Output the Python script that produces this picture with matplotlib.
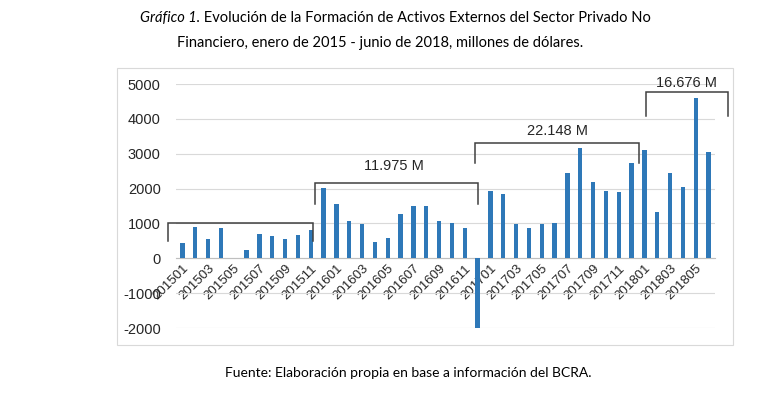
import matplotlib
matplotlib.use("Agg")
import matplotlib.pyplot as plt
from matplotlib.patches import Rectangle

plt.rcParams["axes.unicode_minus"] = False

# ---- data ----
periods = [f"{y}{m:02d}" for y in (2015, 2016, 2017, 2018) for m in range(1, 13)][:42]
values = [450, 900, 550, 870, 0, 240, 700, 650, 550, 680, 800, 2020,
          1570, 1060, 990, 475, 570, 1270, 1490, 1510, 1070, 1000, 865, -2000,
          1930, 1850, 990, 865, 990, 1020, 2450, 3160, 2200, 1930, 1910, 2720,
          3110, 1330, 2440, 2050, 4610, 3060]
bracket_labels = ["", "11.975 M", "22.148 M", "16.676 M"]
# bracket: (x_start, x_end, y_top, y_left_end, y_right_end)
brackets = [(-1.1, 10.15, 1000, 500, 500),
            (10.3, 23.0, 2150, 1550, 1570),
            (22.8, 35.6, 3320, 2740, 2720),
            (36.1, 42.5, 4760, 4070, 4070)]
label_pos = [None, (16.5, 2640), (29.2, 3640), (39.3, 5040)]

W, H, DPI = 768, 398, 100
fig = plt.figure(figsize=(W / DPI, H / DPI), dpi=DPI)
fig.patch.set_facecolor("white")

# chart border box
fig.add_artist(Rectangle((117 / W, 1 - 345 / H), (733 - 117) / W, (345 - 68) / H,
                         transform=fig.transFigure, fill=False,
                         edgecolor="#D9D9D9", linewidth=0.8))

ax = fig.add_axes([176 / W, 1 - 328 / H, (715 - 176) / W, (328 - 84) / H])
x = list(range(len(values)))
ax.bar(x, values, width=0.34, color="#2E78B8", zorder=3)
ax.set_xlim(-0.5, len(values) - 0.5)
ax.set_ylim(-2000, 5000)
ax.set_yticks(range(-2000, 5001, 1000))
ax.grid(axis="y", color="#D9D9D9", linewidth=0.8, zorder=0)
for s in ("top", "right", "left"):
    ax.spines[s].set_visible(False)
ax.spines["bottom"].set_position(("data", 0))
ax.spines["bottom"].set_color("#BFBFBF")
ax.spines["bottom"].set_linewidth(0.8)
ax.spines["bottom"].set_zorder(2)

ax.set_xticks(x[::2])
ax.set_xticklabels(periods[::2], rotation=45, ha="right", va="top",
                   rotation_mode="anchor", fontsize=9.5,
                   family="Liberation Sans", color="#262626")
ax.tick_params(axis="x", length=0, pad=3)
ax.tick_params(axis="y", length=0, pad=11, labelsize=10.5, labelcolor="#262626")
for lab in ax.get_yticklabels():
    lab.set_family("Liberation Sans")

# brackets
for (x0, x1, yt, yl, yr), lab, pos in zip(brackets, bracket_labels, label_pos):
    ax.plot([x0, x0, x1, x1], [yl, yt, yt, yr], color="#404040",
            linewidth=1.1, clip_on=False, zorder=4, solid_joinstyle="miter")
    if lab:
        ax.text(pos[0], pos[1], lab, ha="center", va="center", fontsize=10.5,
                family="Liberation Sans", color="#262626", clip_on=False)

# title with italic part
fig.canvas.draw()
r = fig.canvas.get_renderer()
tfont = "Lato"
tsize = 10.5
t1 = fig.text(0, 0, "Gráfico 1.", fontsize=tsize, family=tfont, style="italic")
t2 = fig.text(0, 0, " Evolución de la Formación de Activos Externos del Sector Privado No",
              fontsize=tsize, family=tfont)
w1 = t1.get_window_extent(r).width
w2 = t2.get_window_extent(r).width
cx = 395
left = cx - (w1 + w2) / 2
ytitle = 1 - 22 / H
t1.set_position((left / W, ytitle))
t2.set_position(((left + w1) / W, ytitle))
t1.set_va("baseline"); t2.set_va("baseline")
fig.text(380 / W, 1 - 47 / H,
         "Financiero, enero de 2015 - junio de 2018, millones de dólares.",
         fontsize=tsize, family=tfont, ha="center", va="baseline")

fig.text(408 / W, 1 - 377 / H,
         "Fuente: Elaboración propia en base a información del BCRA.",
         fontsize=10, family=tfont, ha="center", va="baseline")

fig.savefig("out.png", dpi=DPI)
